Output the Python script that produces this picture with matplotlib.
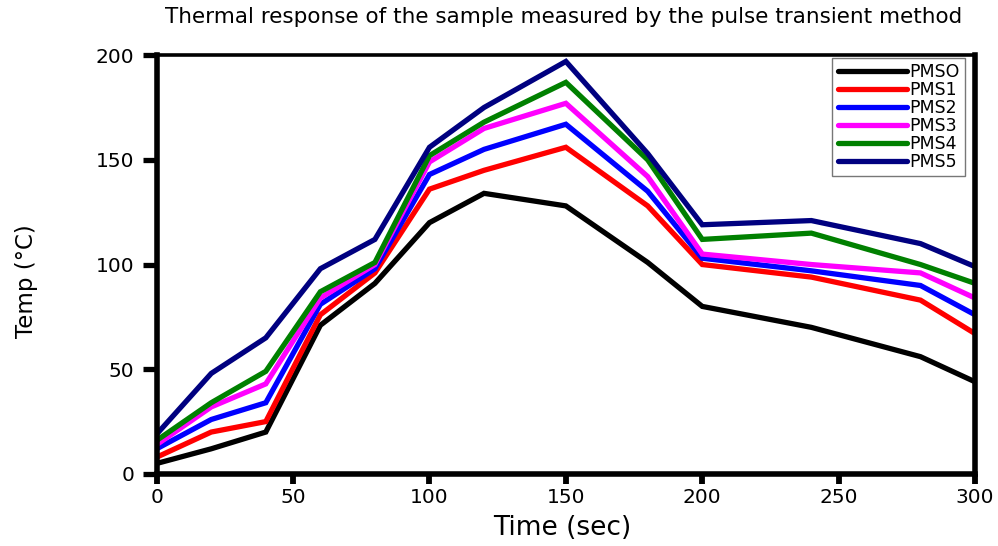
import matplotlib
matplotlib.use("Agg")
import matplotlib.pyplot as plt

plt.rcParams['font.family'] = ['DejaVu Sans']

time = [0, 20, 40, 60, 80, 100, 120, 150, 180, 200, 240, 280, 300]
labels = ["PMSO", "PMS1", "PMS2", "PMS3", "PMS4", "PMS5"]
pmso = [5, 12, 20, 71, 91, 120, 134, 128, 101, 80, 70, 56, 44]
pms1 = [8, 20, 25, 76, 96, 136, 145, 156, 128, 100, 94, 83, 67]
pms2 = [12, 26, 34, 81, 98, 143, 155, 167, 135, 103, 97, 90, 76]
pms3 = [14, 32, 43, 84, 100, 149, 165, 177, 142, 105, 100, 96, 84]
pms4 = [16, 34, 49, 87, 101, 152, 168, 187, 150, 112, 115, 100, 91]
pms5 = [19, 48, 65, 98, 112, 156, 175, 197, 153, 119, 121, 110, 99]
series = [pmso, pms1, pms2, pms3, pms4, pms5]
colors = ["#000000", "#ff0000", "#0000ff", "#ff00ff", "#008000", "#000080"]

fig = plt.figure(figsize=(9.98, 5.46), dpi=100)
ax = fig.add_axes([0.157, 0.132, 0.820, 0.767])

for lab, ys, c in zip(labels, series, colors):
    ax.plot(time, ys, color=c, lw=3.8, label=lab, solid_joinstyle='miter')

ax.set_xlim(0, 300)
ax.set_ylim(0, 200)
ax.set_xticks([0, 50, 100, 150, 200, 250, 300])
ax.set_yticks([0, 50, 100, 150, 200])
ax.tick_params(axis='y', direction='out', length=10, width=3.8, labelsize=14.5, pad=6)
ax.tick_params(axis='x', direction='out', length=7, width=4.2, labelsize=14.5, pad=3)
for side in ['left', 'bottom', 'right']:
    ax.spines[side].set_linewidth(4)
ax.spines['top'].set_linewidth(2.6)

ax.set_xlabel("Time (sec)", fontsize=19)
ax.xaxis.set_label_coords(0.496, -0.098)
ax.set_ylabel("Temp (°C)", fontsize=16.5, va='center')
ax.yaxis.set_label_coords(-0.159, 0.46)
fig.text(0.565, 0.968, "Thermal response of the sample measured by the pulse transient method",
         ha='center', va='center', fontsize=15.5)

leg = ax.legend(loc='upper right', bbox_to_anchor=(0.988, 0.993), borderaxespad=0,
                fontsize=12.5, frameon=True, fancybox=False,
                handlelength=4.0, handletextpad=0.15, borderpad=0.3, labelspacing=0.0)
leg.get_frame().set_edgecolor('#555555')
leg.get_frame().set_linewidth(1.0)
for h in leg.get_lines():
    h.set_linewidth(3.8)
    h.set_solid_capstyle('round')

fig.savefig("out.png", dpi=100)
